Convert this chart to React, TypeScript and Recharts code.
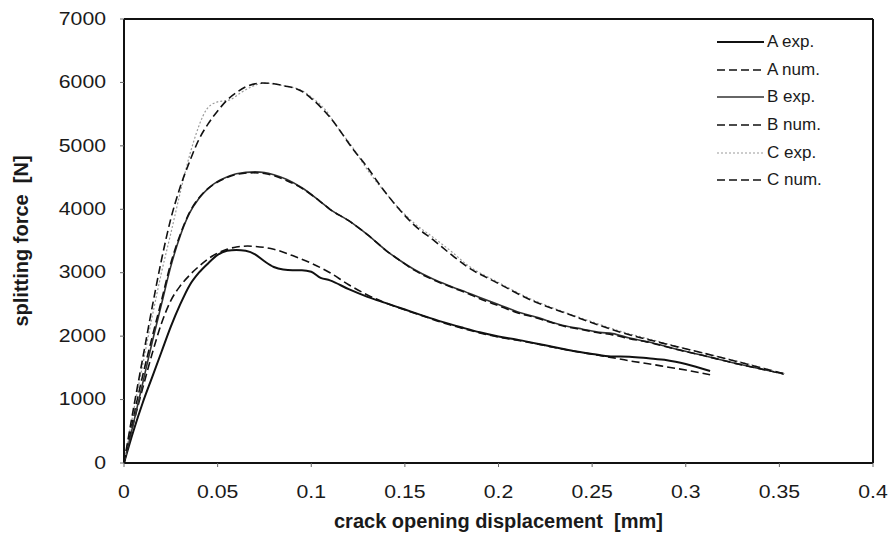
import React from "react";
import { LineChart, Line, XAxis, YAxis, ReferenceLine, Label } from "recharts";

// crack opening displacement [mm], splitting force [N]
const A_EXP: [number, number][] = [
  [0, 0], [0.005, 500], [0.01, 950], [0.015, 1350], [0.02, 1750], [0.025, 2150], [0.03, 2500],
  [0.035, 2800], [0.04, 3000], [0.045, 3150], [0.05, 3280], [0.055, 3345], [0.06, 3360],
  [0.065, 3345], [0.07, 3290], [0.075, 3180], [0.08, 3090], [0.085, 3050], [0.09, 3040],
  [0.095, 3040], [0.1, 3015], [0.105, 2920], [0.11, 2880], [0.12, 2740], [0.13, 2620],
  [0.14, 2520], [0.15, 2420], [0.16, 2320], [0.17, 2225], [0.18, 2140], [0.19, 2060],
  [0.2, 1995], [0.21, 1945], [0.22, 1885], [0.23, 1825], [0.24, 1765], [0.25, 1720],
  [0.26, 1680], [0.27, 1675], [0.28, 1650], [0.29, 1620], [0.3, 1560], [0.313, 1450],
];
const A_NUM: [number, number][] = [
  [0, 0], [0.005, 620], [0.01, 1180], [0.015, 1720], [0.02, 2200], [0.025, 2560], [0.03, 2790],
  [0.035, 2960], [0.04, 3100], [0.045, 3220], [0.05, 3310], [0.055, 3370], [0.06, 3405],
  [0.066, 3420], [0.07, 3415], [0.08, 3370], [0.09, 3270], [0.1, 3150], [0.11, 3000],
  [0.12, 2810], [0.13, 2650], [0.14, 2520], [0.15, 2415], [0.16, 2315], [0.17, 2215],
  [0.18, 2130], [0.19, 2050], [0.2, 1985], [0.21, 1935], [0.22, 1880], [0.23, 1820],
  [0.24, 1765], [0.25, 1715], [0.26, 1665], [0.27, 1610], [0.28, 1565], [0.29, 1515],
  [0.3, 1465], [0.313, 1390],
];
const B_EXP: [number, number][] = [
  [0, 0], [0.005, 620], [0.01, 1260], [0.015, 1900], [0.02, 2500], [0.025, 3100], [0.03, 3580],
  [0.035, 3940], [0.04, 4170], [0.045, 4330], [0.05, 4440], [0.055, 4510], [0.06, 4560],
  [0.07, 4590], [0.075, 4580], [0.08, 4545], [0.087, 4470], [0.095, 4340], [0.1045, 4130],
  [0.11, 4000], [0.12, 3820], [0.13, 3600], [0.14, 3350], [0.147, 3200], [0.155, 3050],
  [0.165, 2900], [0.175, 2780], [0.183, 2690], [0.19, 2610], [0.2, 2500], [0.21, 2385],
  [0.22, 2300], [0.236, 2160], [0.245, 2110], [0.254, 2060], [0.261, 2040], [0.27, 1970],
  [0.279, 1915], [0.2965, 1785], [0.31, 1690], [0.323, 1595], [0.3525, 1405],
];
const B_NUM: [number, number][] = [
  [0, 0], [0.005, 720], [0.01, 1380], [0.015, 1980], [0.02, 2560], [0.025, 3150], [0.03, 3600],
  [0.035, 3950], [0.04, 4180], [0.045, 4330], [0.05, 4430], [0.055, 4500], [0.06, 4550],
  [0.069, 4575], [0.075, 4565], [0.08, 4530], [0.087, 4450], [0.094, 4350], [0.1045, 4130],
  [0.11, 4000], [0.12, 3820], [0.13, 3600], [0.14, 3350], [0.147, 3200], [0.155, 3040],
  [0.165, 2890], [0.175, 2770], [0.183, 2680], [0.19, 2590], [0.2, 2480], [0.21, 2370],
  [0.22, 2290], [0.236, 2150], [0.245, 2100], [0.254, 2050], [0.261, 2020], [0.27, 1960],
  [0.279, 1910], [0.2965, 1780], [0.31, 1690], [0.323, 1595], [0.3525, 1405],
];
const C_EXP: [number, number][] = [
  [0, 0], [0.005, 800], [0.01, 1550], [0.015, 2300], [0.02, 3000], [0.025, 3620], [0.03, 4260],
  [0.037, 5050], [0.044, 5570], [0.0496, 5690], [0.0565, 5725], [0.062, 5830], [0.068, 5930],
  [0.075, 5990], [0.085, 5950], [0.095, 5870], [0.1, 5770], [0.11, 5470], [0.1115, 5400],
  [0.122, 4980], [0.131, 4580], [0.14, 4250], [0.147, 4010], [0.155, 3780], [0.165, 3560],
  [0.175, 3330], [0.183, 3130], [0.2, 2845], [0.218, 2575], [0.236, 2370], [0.254, 2185],
  [0.261, 2115], [0.2875, 1900], [0.314, 1700], [0.33, 1585], [0.3525, 1405],
];
const C_NUM: [number, number][] = [
  [0, 0], [0.005, 850], [0.01, 1650], [0.015, 2450], [0.02, 3200], [0.025, 3850], [0.03, 4350],
  [0.035, 4750], [0.04, 5100], [0.045, 5350], [0.05, 5550], [0.055, 5720], [0.06, 5840],
  [0.065, 5930], [0.074, 5990], [0.08, 5980], [0.085, 5950], [0.095, 5860], [0.1, 5750],
  [0.11, 5450], [0.122, 4960], [0.131, 4620], [0.135, 4450], [0.147, 4000], [0.155, 3750],
  [0.165, 3520], [0.175, 3280], [0.183, 3100], [0.2, 2830], [0.218, 2560], [0.236, 2360],
  [0.254, 2170], [0.261, 2100], [0.2875, 1890], [0.314, 1700], [0.33, 1580], [0.3525, 1405],
];

const X_TICKS = [0, 0.05, 0.1, 0.15, 0.2, 0.25, 0.3, 0.35, 0.4];
const Y_TICKS = [0, 1000, 2000, 3000, 4000, 5000, 6000, 7000];
const X_TITLE = "crack opening displacement  [mm]";
const Y_TITLE = "splitting force  [N]";

const FONT = "'Liberation Sans', Arial, Helvetica, sans-serif";

const SERIES = [
  { name: "A exp.", data: A_EXP, stroke: "#111", width: 2, dash: undefined as string | undefined },
  { name: "A num.", data: A_NUM, stroke: "#111", width: 1.6, dash: "8 4" },
  { name: "B exp.", data: B_EXP, stroke: "#333", width: 1.6, dash: undefined },
  { name: "B num.", data: B_NUM, stroke: "#111", width: 1.6, dash: "8 4" },
  { name: "C exp.", data: C_EXP, stroke: "#9a9a9a", width: 1.2, dash: "2 2" },
  { name: "C num.", data: C_NUM, stroke: "#111", width: 1.6, dash: "8 4" },
];

const toPoints = (arr: [number, number][]) => arr.map(([x, y]) => ({ x, y }));

const XTick = (props: any) => {
  const { x, y, payload } = props;
  return (
    <text
      transform={`translate(${x},${y}) scale(1.18,1)`}
      textAnchor="middle"
      dy="0.71em"
      fontSize={18}
      fontFamily={FONT}
      fill="#1a1a1a"
    >
      {String(payload.value)}
    </text>
  );
};

const YTick = (props: any) => {
  const { x, y, payload } = props;
  return (
    <text
      transform={`translate(${x},${y}) scale(1.18,1)`}
      textAnchor="end"
      dy="0.32em"
      fontSize={18}
      fontFamily={FONT}
      fill="#1a1a1a"
    >
      {String(payload.value)}
    </text>
  );
};

const YTitle = (props: any) => {
  const vb = props.viewBox || { x: 0, y: 0, width: 0, height: 0 };
  const cx = vb.x + 21;
  const cy = vb.y + vb.height / 2;
  return (
    <text
      x={cx}
      y={cy}
      transform={`rotate(-90, ${cx}, ${cy})`}
      textAnchor="middle"
      dominantBaseline="central"
      fontSize={20}
      fontWeight="bold"
      fontFamily={FONT}
      fill="#1a1a1a"
      style={{ whiteSpace: "pre" }}
    >
      {Y_TITLE}
    </text>
  );
};

const XTitle = (props: any) => {
  const vb = props.viewBox || { x: 0, y: 0, width: 0, height: 0 };
  return (
    <text
      x={vb.x + vb.width / 2}
      y={vb.y + 65}
      textAnchor="middle"
      fontSize={20}
      fontWeight="bold"
      fontFamily={FONT}
      fill="#1a1a1a"
      style={{ whiteSpace: "pre" }}
    >
      {X_TITLE}
    </text>
  );
};

const LegendBox = () => (
  <div
    style={{
      position: "absolute",
      left: 717,
      top: 28,
      fontFamily: FONT,
      fontSize: 17,
      color: "#1a1a1a",
    }}
  >
    {SERIES.map((s) => (
      <div key={s.name} style={{ display: "flex", alignItems: "center", height: 27.7 }}>
        <svg width={50} height={10} style={{ display: "block" }}>
          <line x1={0} y1={5} x2={47} y2={5} stroke={s.stroke} strokeWidth={s.width} strokeDasharray={s.dash} />
        </svg>
        <span style={{ whiteSpace: "nowrap" }}>{s.name}</span>
      </div>
    ))}
  </div>
);

export default function App() {
  return (
    <div style={{ position: "absolute", left: 0, top: 0, width: 891, height: 536, background: "#fff" }}>
      <LineChart width={891} height={536} margin={{ top: 19, right: 18, left: 0, bottom: 0 }}>
        <XAxis
          dataKey="x"
          type="number"
          domain={[0, 0.4]}
          ticks={X_TICKS}
          height={73}
          tickSize={4}
          tickMargin={18}
          tick={<XTick />}
          axisLine={{ stroke: "#111", strokeWidth: 2 }}
          tickLine={{ stroke: "#666" }}
          allowDataOverflow
        >
          <Label content={<XTitle />} />
        </XAxis>
        <YAxis
          dataKey="y"
          type="number"
          domain={[0, 7000]}
          ticks={Y_TICKS}
          width={124}
          tickSize={4}
          tickMargin={14}
          tick={<YTick />}
          axisLine={{ stroke: "#111", strokeWidth: 2 }}
          tickLine={{ stroke: "#666" }}
          allowDataOverflow
        >
          <Label content={<YTitle />} />
        </YAxis>
        <ReferenceLine y={7000} stroke="#111" strokeWidth={2} />
        <ReferenceLine x={0.4} stroke="#111" strokeWidth={2} />
        {SERIES.map((s) => (
          <Line
            key={s.name}
            name={s.name}
            data={toPoints(s.data)}
            dataKey="y"
            type="monotone"
            stroke={s.stroke}
            strokeWidth={s.width}
            strokeDasharray={s.dash}
            dot={false}
            activeDot={false}
            isAnimationActive={false}
          />
        ))}
      </LineChart>
      <LegendBox />
    </div>
  );
}
